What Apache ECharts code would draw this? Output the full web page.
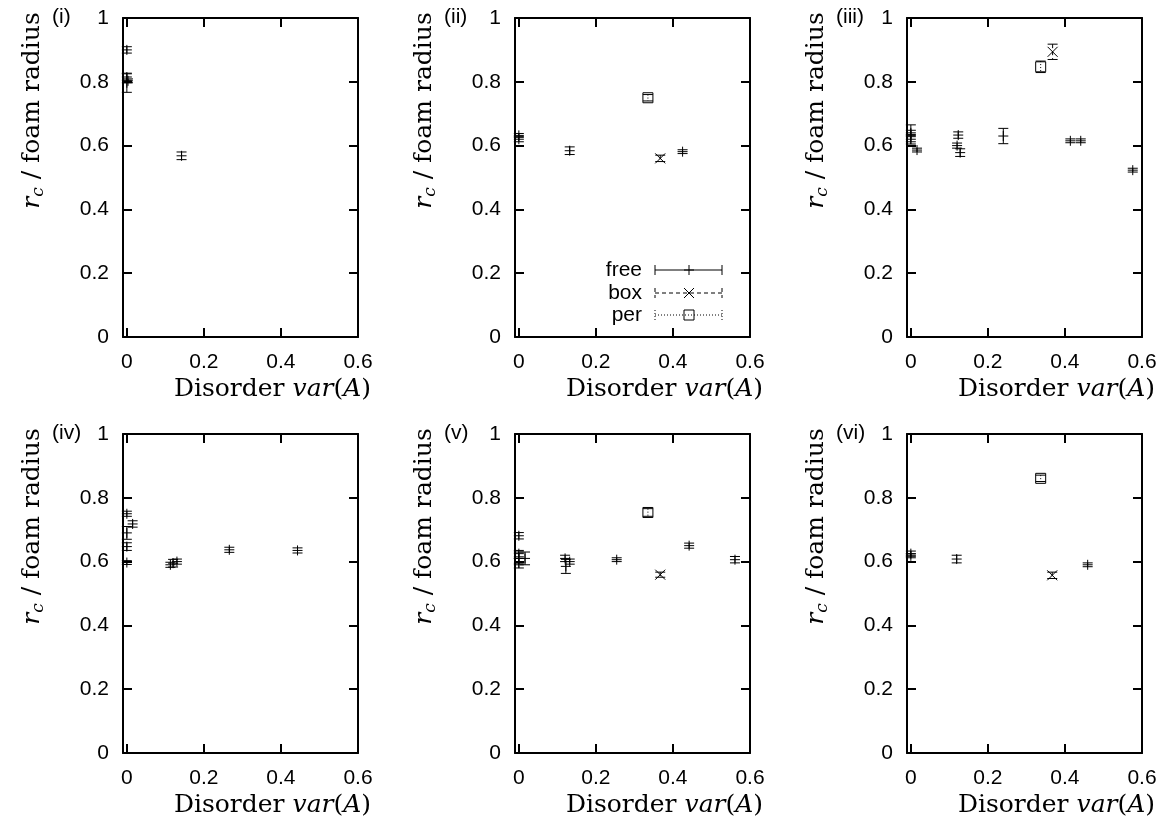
<!DOCTYPE html>
<html>
<head>
<meta charset="utf-8">
<script src="https://cdn.jsdelivr.net/npm/echarts@6/dist/echarts.min.js"></script>
<style>html,body{margin:0;padding:0;background:#fff}#c{width:1171px;height:829px}</style>
</head>
<body>
<div id="c"></div>
<script>
// ---- data: [disorder var(A), r_c / foam radius, error] ----
const panelLabels = ['(i)', '(ii)', '(iii)', '(iv)', '(v)', '(vi)'];
const xTicks = [0, 0.2, 0.4, 0.6];
const yTicks = [0, 0.2, 0.4, 0.6, 0.8, 1];
const seriesNames = ['free', 'box', 'per'];

const free1 = [[0, 0.900, 0.010], [0, 0.815, 0.010], [0.003, 0.803, 0.006], [0, 0.797, 0.030], [0.142, 0.568, 0.012]];
const box1 = [];
const per1 = [];

const free2 = [[0, 0.632, 0.006], [0, 0.620, 0.008], [0.132, 0.584, 0.012], [0.425, 0.581, 0.006]];
const box2 = [[0.367, 0.560, 0.010]];
const per2 = [[0.335, 0.750, 0.010]];

const free3 = [[0, 0.635, 0.030], [0, 0.640, 0.008], [0, 0.620, 0.008], [0.016, 0.586, 0.006],
  [0.123, 0.633, 0.010], [0.120, 0.600, 0.008], [0.128, 0.578, 0.012],
  [0.240, 0.630, 0.024], [0.414, 0.615, 0.006], [0.441, 0.615, 0.006], [0.576, 0.523, 0.006]];
const box3 = [[0.368, 0.894, 0.024]];
const per3 = [[0.337, 0.847, 0.018]];

const free4 = [[0, 0.750, 0.008], [0.015, 0.718, 0.010], [0, 0.690, 0.020], [0, 0.647, 0.012], [0, 0.597, 0.006],
  [0.113, 0.590, 0.008], [0.120, 0.595, 0.012], [0.130, 0.600, 0.008], [0.266, 0.637, 0.008], [0.443, 0.635, 0.008]];
const box4 = [];
const per4 = [];

const free5 = [[0, 0.681, 0.010], [0, 0.625, 0.010], [0, 0.610, 0.020], [0.016, 0.610, 0.020], [0, 0.595, 0.015],
  [0.120, 0.610, 0.010], [0.132, 0.600, 0.008], [0.122, 0.585, 0.022], [0.254, 0.606, 0.006],
  [0.442, 0.650, 0.008], [0.561, 0.606, 0.010]];
const box5 = [[0.367, 0.559, 0.008]];
const per5 = [[0.335, 0.754, 0.012]];

const free6 = [[0, 0.625, 0.008], [0, 0.618, 0.006], [0.119, 0.608, 0.012], [0.459, 0.590, 0.006]];
const box6 = [[0.367, 0.557, 0.010]];
const per6 = [[0.337, 0.861, 0.010]];

const panelData = [
  [free1, box1, per1], [free2, box2, per2], [free3, box3, per3],
  [free4, box4, per4], [free5, box5, per5], [free6, box6, per6]
];

// ---- layout ----
const lefts = [123, 515, 907];
const tops = [18, 434];
const W = 235, H = 319;
const SANS = 'Liberation Sans';
const SERIF = 'DejaVu Serif';

const dashes = { free: null, box: [4, 3], per: [1, 2] };

function markerShapes(kind, cx, cy) {
  const s = 5;
  const st = { stroke: '#000', lineWidth: 1, fill: null };
  if (kind === 'free') {
    return [
      { type: 'line', shape: { x1: cx - s, y1: cy, x2: cx + s, y2: cy }, style: st },
      { type: 'line', shape: { x1: cx, y1: cy - s, x2: cx, y2: cy + s }, style: st }
    ];
  } else if (kind === 'box') {
    return [
      { type: 'line', shape: { x1: cx - s, y1: cy - s, x2: cx + s, y2: cy + s }, style: st },
      { type: 'line', shape: { x1: cx - s, y1: cy + s, x2: cx + s, y2: cy - s }, style: st }
    ];
  }
  return [{ type: 'rect', shape: { x: cx - s, y: cy - s, width: 2 * s, height: 2 * s }, style: { stroke: '#000', lineWidth: 1, fill: 'none' } }];
}

function makeRender(kind) {
  return function (params, api) {
    const x = api.value(0), y = api.value(1), e = api.value(2);
    const c = api.coord([x, y]);
    const t = api.coord([x, y + e]);
    const b = api.coord([x, y - e]);
    const cw = 5;
    const ls = { stroke: '#000', lineWidth: 1, lineDash: dashes[kind] };
    const children = [
      { type: 'line', shape: { x1: c[0], y1: t[1], x2: c[0], y2: b[1] }, style: ls },
      { type: 'line', shape: { x1: c[0] - cw, y1: t[1], x2: c[0] + cw, y2: t[1] }, style: { stroke: '#000', lineWidth: 1 } },
      { type: 'line', shape: { x1: c[0] - cw, y1: b[1], x2: c[0] + cw, y2: b[1] }, style: { stroke: '#000', lineWidth: 1 } }
    ].concat(markerShapes(kind, c[0], c[1]));
    return { type: 'group', children: children };
  };
}

const grid = [], xAxis = [], yAxis = [], series = [], graphic = [];
const axisLine = { onZero: false, lineStyle: { color: '#000', width: 2 } };
const tickStyle = { color: '#000', width: 2 };

for (let p = 0; p < 6; p++) {
  const left = lefts[p % 3], top = tops[Math.floor(p / 3)];
  grid.push({ left: left, top: top, width: W, height: H });
  xAxis.push({
    type: 'value', gridIndex: p, position: 'bottom', min: -0.01, max: 0.6,
    axisLine: axisLine,
    axisTick: { inside: true, length: 9, customValues: xTicks, lineStyle: tickStyle },
    axisLabel: { customValues: xTicks, fontFamily: SANS, fontSize: 21, color: '#000', margin: 15, formatter: v => String(v) },
    splitLine: { show: false },
    name: '{n|Disorder }{i|var}{n|(}{i|A}{n|)}',
    nameLocation: 'middle', nameGap: 40,
    nameTextStyle: {
      fontFamily: SERIF, fontSize: 25,
      padding: [0, 0, 0, 64],
      rich: {
        n: { fontFamily: SERIF, fontSize: 25, color: '#000' },
        i: { fontFamily: SERIF, fontSize: 25, fontStyle: 'italic', color: '#000' }
      }
    }
  });
  xAxis.push({
    type: 'value', gridIndex: p, position: 'top', min: -0.01, max: 0.6,
    axisLine: axisLine,
    axisTick: { inside: true, length: 9, customValues: xTicks, lineStyle: tickStyle },
    axisLabel: { show: false },
    splitLine: { show: false }
  });
  yAxis.push({
    type: 'value', gridIndex: p, position: 'left', min: yTicks[0], max: yTicks[yTicks.length - 1], interval: 0.2,
    axisLine: axisLine,
    axisTick: { inside: true, length: 9, lineStyle: tickStyle },
    axisLabel: { fontFamily: SANS, fontSize: 21, color: '#000', margin: 14 },
    splitLine: { show: false },
    name: '{r|r}{c|c}{t| / foam radius}',
    nameLocation: 'middle', nameGap: 76,
    nameTextStyle: {
      fontFamily: SERIF, fontSize: 25,
      padding: [0, 0, 0, 134],
      rich: {
        r: { fontFamily: SERIF, fontSize: 25, fontStyle: 'italic', color: '#000', lineHeight: 30 },
        c: { fontFamily: SERIF, fontSize: 17, fontStyle: 'italic', color: '#000', lineHeight: 30, verticalAlign: 'bottom' },
        t: { fontFamily: SERIF, fontSize: 25, color: '#000', lineHeight: 30 }
      }
    }
  });
  yAxis.push({
    type: 'value', gridIndex: p, position: 'right', min: yTicks[0], max: yTicks[yTicks.length - 1], interval: 0.2,
    axisLine: axisLine,
    axisTick: { inside: true, length: 9, lineStyle: tickStyle },
    axisLabel: { show: false },
    splitLine: { show: false }
  });
  seriesNames.forEach((kind, k) => {
    series.push({
      type: 'custom', name: kind, xAxisIndex: 2 * p, yAxisIndex: 2 * p,
      data: panelData[p][k], renderItem: makeRender(kind), clip: false, silent: true,
      encode: { x: 0, y: 1 }
    });
  });
  graphic.push({
    type: 'text', x: left - 71, y: top - 1,
    style: { text: panelLabels[p], fontFamily: SANS, fontSize: 21, fill: '#000', align: 'left', verticalAlign: 'middle' }
  });
}

// legend inside panel (ii)
const legY = [270, 293, 315];
const lx1 = 655, lx2 = 722, lm = 689, ltext = 642;
seriesNames.forEach((kind, k) => {
  const y = legY[k];
  graphic.push({ type: 'text', x: ltext, y: y, style: { text: kind, fontFamily: SANS, fontSize: 21, fill: '#000', align: 'right', verticalAlign: 'middle' } });
  graphic.push({ type: 'line', shape: { x1: lx1, y1: y, x2: lx2, y2: y }, style: { stroke: '#000', lineWidth: 1, lineDash: dashes[kind] } });
  graphic.push({ type: 'line', shape: { x1: lx1, y1: y - 5, x2: lx1, y2: y + 5 }, style: { stroke: '#000', lineWidth: 1, lineDash: dashes[kind] } });
  graphic.push({ type: 'line', shape: { x1: lx2, y1: y - 5, x2: lx2, y2: y + 5 }, style: { stroke: '#000', lineWidth: 1, lineDash: dashes[kind] } });
  markerShapes(kind, lm, y).forEach(s => graphic.push(s));
});

const chart = echarts.init(document.getElementById('c'), null, { renderer: 'canvas' });
chart.setOption({
  animation: false,
  backgroundColor: '#fff',
  grid: grid, xAxis: xAxis, yAxis: yAxis, series: series, graphic: graphic
});
</script>
</body>
</html>
